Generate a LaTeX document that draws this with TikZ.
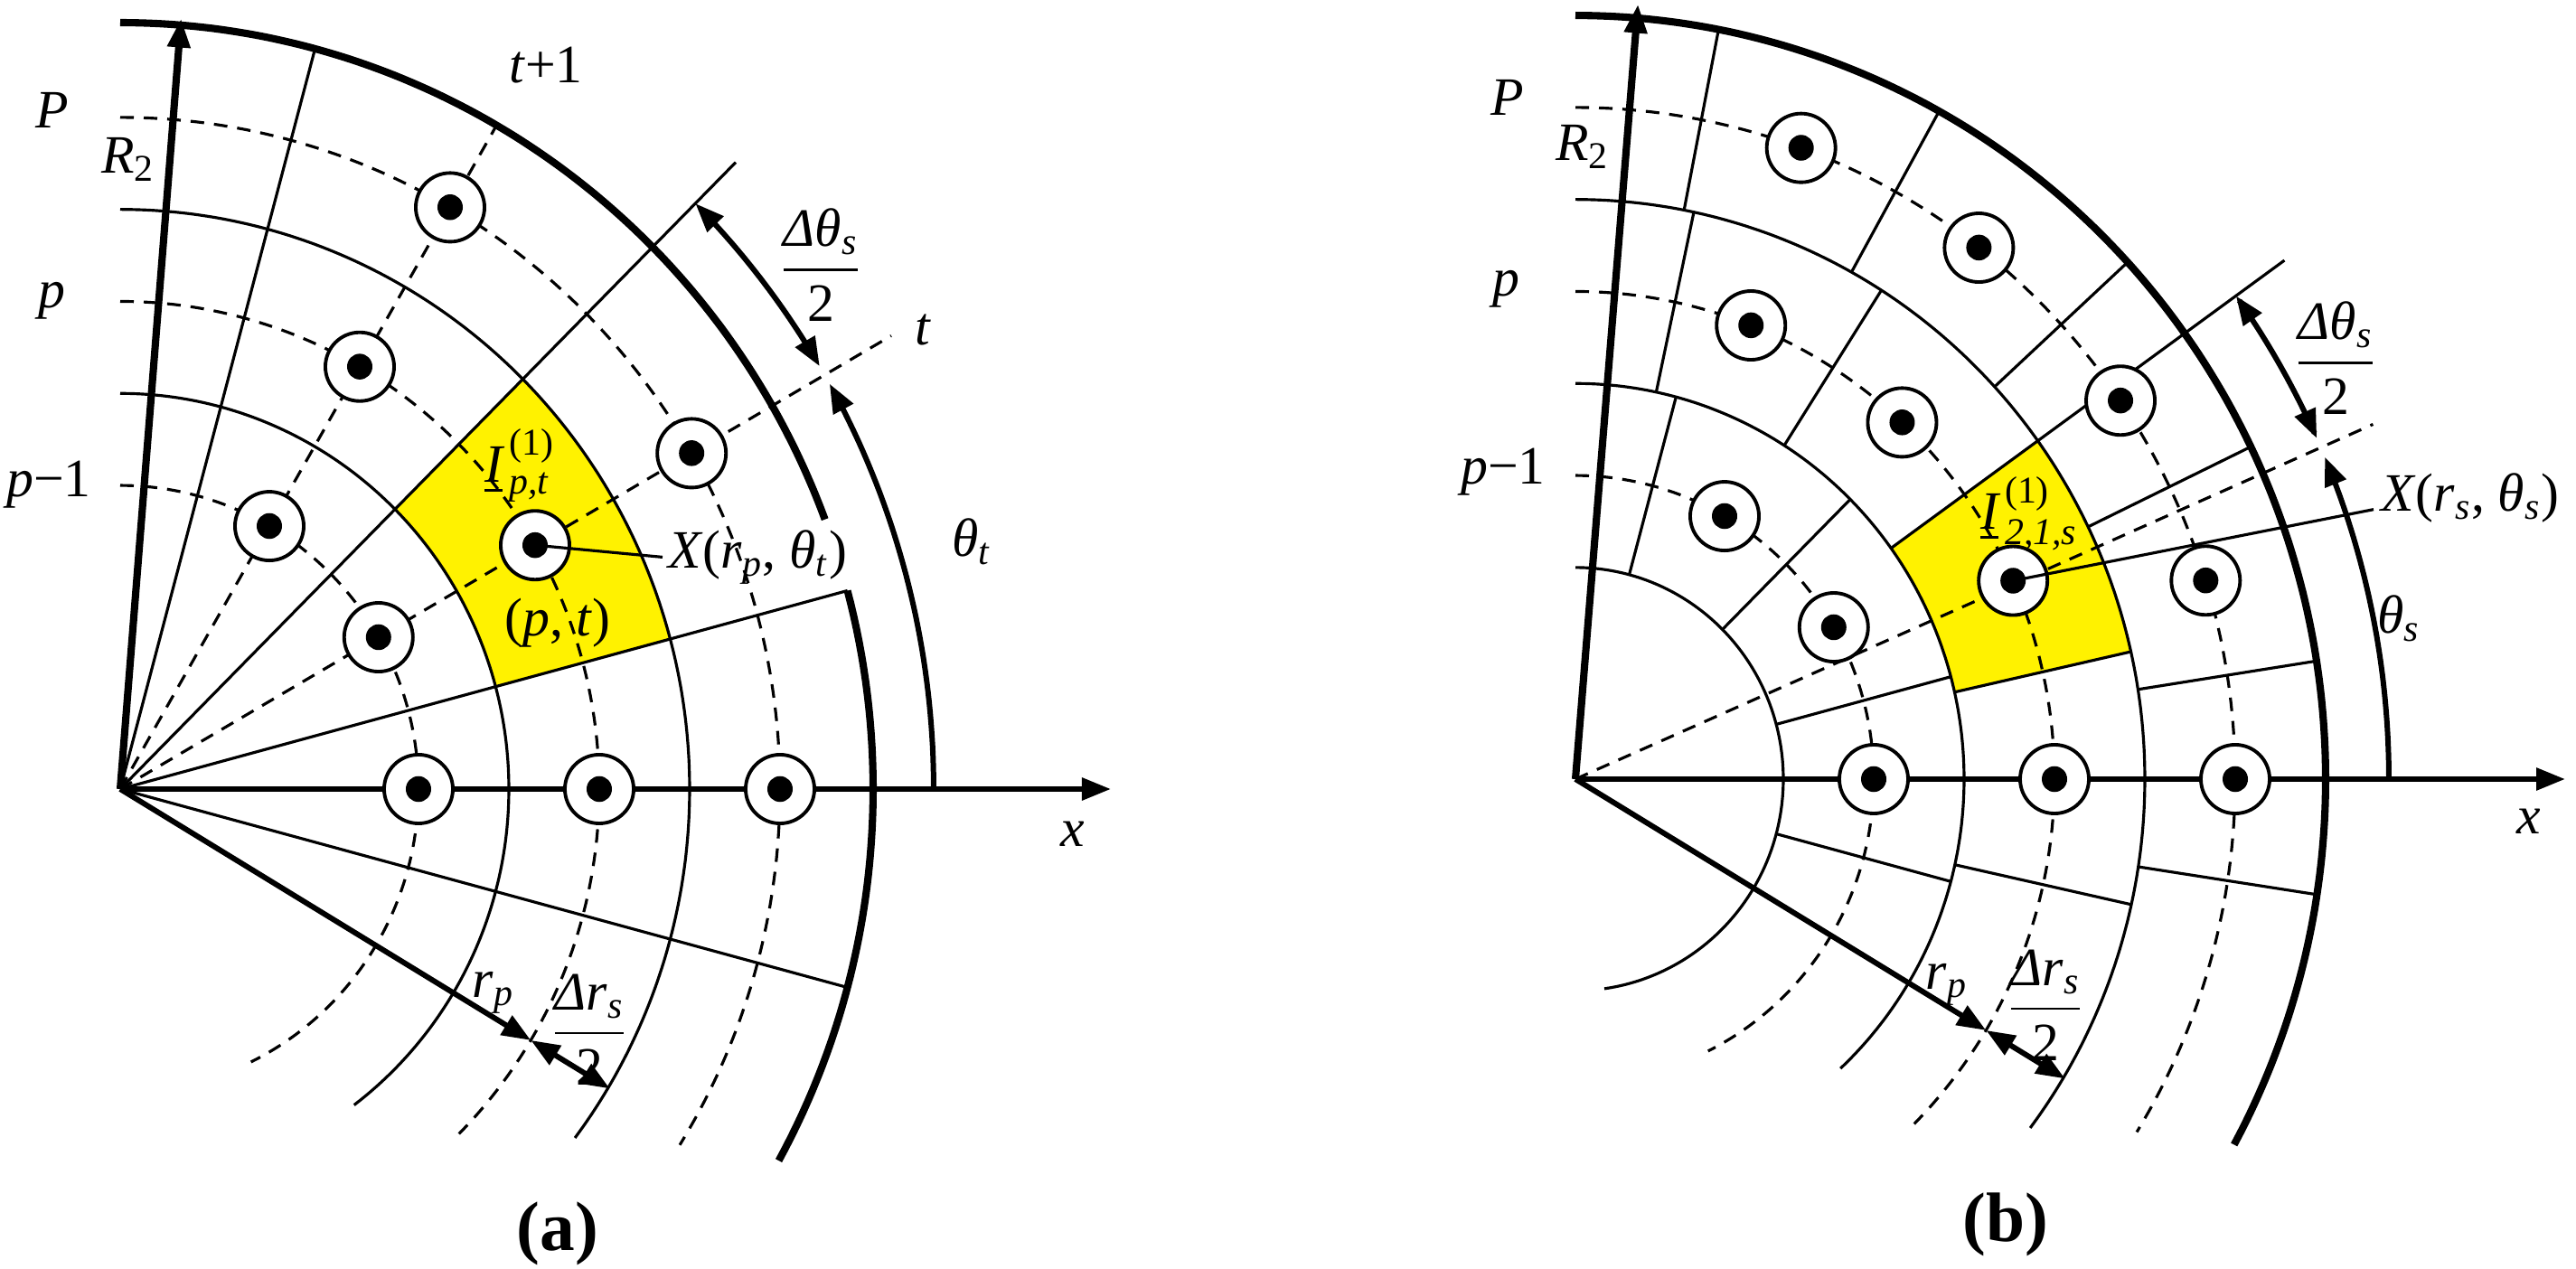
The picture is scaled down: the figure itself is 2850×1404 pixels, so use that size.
\documentclass[tikz,border=0pt]{standalone}
\usepackage{amsmath}
\usepackage{fontspec}
\setmainfont{Liberation Serif}
\usetikzlibrary{arrows.meta}
\newcommand\arcr[4]{\draw[#1] plot[domain=#3:#4,samples=90,smooth] (\x:#2);}
\newcommand\frc[2]{$\dfrac{\text{#1}}{\text{#2}}$}
\newcommand\pdot[2]{\node[dotc] (#1) at (#2) {}; \fill (#1.center) circle [radius=0.14cm];}
\begin{document}
\begin{tikzpicture}[x=0.01cm,y=0.01cm,
  thinl/.style={line width=0.9pt},
  thk/.style={line width=2.3pt},
  axis/.style={line width=1.7pt},
  dsh/.style={line width=0.9pt,dash pattern=on 0.15cm off 0.11cm},
  tip/.style={-{Triangle[length=0.32cm,width=0.24cm]}},
  tips/.style={{Triangle[length=0.32cm,width=0.24cm]}-{Triangle[length=0.32cm,width=0.24cm]}},
  dotc/.style={circle,draw,fill=white,minimum size=0.76cm,inner sep=0pt,line width=1.1pt},
  lbl/.style={font=\fontsize{17}{20}\selectfont,inner sep=1pt},
  captxt/.style={font=\fontsize{22}{26}\selectfont\bfseries}]
\useasboundingbox (0,0) rectangle (2850,-1404);
\fill[white] (0,0) rectangle (2850,-1404);
% ================= panel (a)
\begin{scope}[shift={(133,-873)},yscale=1.018]
\coordinate (ao) at (0,0);
\fill[yellow] plot[domain=15:45,samples=40] (\x:430) -- plot[domain=45:15,samples=40] (\x:630) -- cycle;
\arcr{thinl}{430}{90}{-53}
\arcr{thinl}{630}{90}{-37}
\arcr{dsh}{330}{90}{-64}
\arcr{dsh}{530}{90}{-45}
\arcr{dsh}{730}{90}{-32}
\arcr{thk}{833}{90}{20.6}
\arcr{thk}{833}{15}{-29}
\coordinate (a75) at (75:830); \draw[thinl] (ao) -- (a75);
\coordinate (a45) at (45:963); \draw[thinl] (ao) -- (a45);
\coordinate (a15) at (15:833); \draw[thinl] (ao) -- (a15);
\coordinate (am15) at (-15:830); \draw[thinl] (ao) -- (am15);
\coordinate (a30) at (30:985); \draw[dsh] (ao) -- (a30);
\coordinate (a60) at (60:830); \draw[dsh] (ao) -- (a60);
\coordinate (ax) at (1096,0); \draw[axis,tip] (ao) -- (ax);
\coordinate (aR) at (85.4:840); \draw[thk,tip] (ao) -- (aR);
\coordinate (arp) at (-31:530); \draw[axis,tip] (ao) -- (arp);
\coordinate (adr) at (-31:632); \draw[axis,tips] (arp) -- (adr);
\draw[axis,tip] plot[domain=0:29.3,samples=40] (\x:900);
\draw[axis,tips] plot[domain=30.7:45,samples=30] (\x:900);
\foreach \a in {0,30,60}{
  \pdot{ad1\a}{\a:330}
  \pdot{ad2\a}{\a:530}
  \pdot{ad3\a}{\a:730}}
\coordinate (alead) at (600,252);
\draw[thinl] (ad230.center) -- (alead);
\end{scope}
\node[lbl,anchor=west] (aX) at (735,-617) {\textit{X}(\textit{r}\textsubscript{\textit{p}}, \textit{θ}\textsubscript{\textit{t}})};
\node[lbl] (aI) at (575,-515) {$\underline{\text{\itshape I}}^{\,\text{(1)}}_{\,\text{\itshape p,t}}$};
\node[lbl] (apt) at (617,-689) {(\textit{p}, \textit{t})};
\node[lbl] (at1) at (604,-72) {\textit{t}+1};
\node[lbl] (at) at (1021,-365) {\textit{t}};
\node[lbl] (ath) at (1075,-599) {\textit{θ}\textsubscript{\textit{t}}};
\node[lbl] (adth) at (908,-293) {\frc{\itshape Δθ\textsubscript{s}}{2}};
\node[lbl] (adrl) at (652,-1139) {\frc{\itshape Δr\textsubscript{s}}{2}};
\node[lbl] (arpl) at (546,-1098) {\textit{r}\textsubscript{\textit{p}}};
\node[lbl] (aR2) at (142,-176) {\textit{R}\textsubscript{2}};
\node[lbl] (aPP) at (58,-122) {\textit{P}};
\node[lbl] (app) at (57,-333) {\textit{p}};
\node[lbl] (apm) at (54,-536) {\textit{p}−1};
\node[lbl] (axl) at (1187,-923) {\textit{x}};
\node[captxt] (acap) at (617,-1365) {(a)};
% ================= panel (b)
\begin{scope}[shift={(1743,-862)},yscale=1.018]
\coordinate (bo) at (0,0);
\fill[yellow] plot[domain=12.7:35.7,samples=40] (\x:430) -- plot[domain=35.7:12.7,samples=40] (\x:630) -- cycle;
\arcr{thinl}{230}{90}{-82}
\arcr{thinl}{430}{90}{-47}
\arcr{thinl}{630}{90}{-37}
\arcr{dsh}{330}{90}{-63.6}
\arcr{dsh}{530}{90}{-45}
\arcr{dsh}{730}{90}{-31.7}
\arcr{thk}{830}{90}{-28.6}
\foreach \a in {75,45,15,-15}{\draw[thinl] (\a:230) -- (\a:430);}
\foreach \a in {78,57.5,12.7,-12.5}{\draw[thinl] (\a:430) -- (\a:630);}
\coordinate (b35i) at (35.7:430); \coordinate (b35o) at (35.7:966);
\draw[thinl] (b35i) -- (b35o);
\foreach \a in {79,61,42.6,25.8,8.9,-8.7}{\draw[thinl] (\a:630) -- (\a:830);}
\coordinate (b24) at (23.6:963); \draw[dsh] (bo) -- (b24);
\coordinate (bx) at (1095,0); \draw[axis,tip] (bo) -- (bx);
\coordinate (bR) at (85.3:845); \draw[thk,tip] (bo) -- (bR);
\coordinate (brp) at (-31:530); \draw[axis,tip] (bo) -- (brp);
\coordinate (bdr) at (-31:632); \draw[axis,tips] (brp) -- (bdr);
\draw[axis,tip] plot[domain=0:22.9,samples=40] (\x:900);
\draw[axis,tips] plot[domain=24.3:35.7,samples=30] (\x:900);
\foreach \a/\n in {0/0,30/1,60/2}{\pdot{bd1\n}{\a:330}}
\foreach \a/\n in {0/0,24/1,47/2,68.5/3}{\pdot{bd2\n}{\a:530}}
\foreach \a/\n in {0/0,17.2/1,34.3/2,52.3/3,70/4}{\pdot{bd3\n}{\a:730}}
\coordinate (blead) at (883,293);
\draw[thinl] (bd21.center) -- (blead);
\end{scope}
\node[lbl,anchor=west] (bX) at (2630,-551) {\textit{X}(\textit{r}\textsubscript{\textit{s}}, \textit{θ}\textsubscript{\textit{s}})};
\node[lbl] (bI) at (2245,-568) {$\underline{\text{\itshape I}}^{\,\text{(1)}}_{\,\text{\itshape 2,1,s}}$};
\node[lbl] (bth) at (2654,-684) {\textit{θ}\textsubscript{\textit{s}}};
\node[lbl] (bdth) at (2584,-396) {\frc{\itshape Δθ\textsubscript{s}}{2}};
\node[lbl] (bdrl) at (2263,-1112) {\frc{\itshape Δr\textsubscript{s}}{2}};
\node[lbl] (brpl) at (2154,-1089) {\textit{r}\textsubscript{\textit{p}}};
\node[lbl] (bR2) at (1751,-162) {\textit{R}\textsubscript{2}};
\node[lbl] (bPP) at (1668,-108) {\textit{P}};
\node[lbl] (bpp) at (1666,-320) {\textit{p}};
\node[lbl] (bpm) at (1663,-522) {\textit{p}−1};
\node[lbl] (bxl) at (2798,-909) {\textit{x}};
\node[captxt] (bcap) at (2219,-1355) {(b)};
\end{tikzpicture}
\end{document}
